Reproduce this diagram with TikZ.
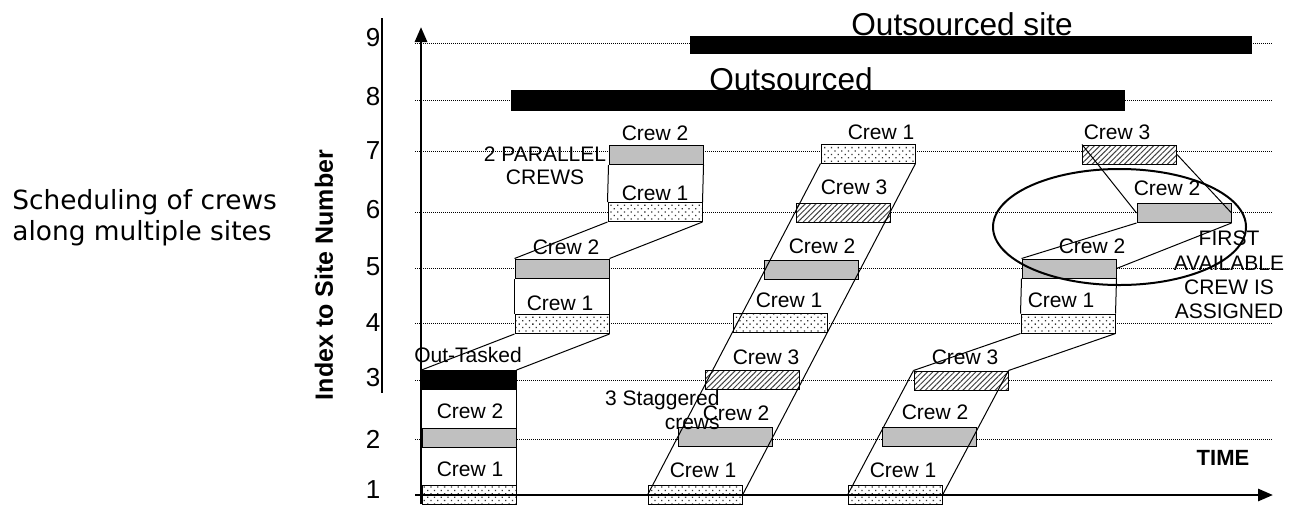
\documentclass[tikz,border=0pt]{standalone}
\usepackage{fontspec}
\setmainfont{Liberation Sans}
\newfontfamily\notefont{DejaVu Sans}
\usetikzlibrary{arrows.meta, patterns.meta, positioning}
\definecolor{cgrey}{HTML}{C0C0C0}
\definecolor{chatch}{HTML}{404040}
\tikzset{
  bar/.style={draw, line width=0.5pt, minimum width=47pt, minimum height=9.5pt, inner sep=0pt},
  dotbar/.style={bar, preaction={fill=white}, pattern={Dots[angle=45, distance=2.4pt, radius=0.45pt]}, pattern color=black!80},
  greybar/.style={bar, fill=cgrey},
  hatchbar/.style={bar, preaction={fill=white}, pattern={Lines[angle=45, distance=1.9pt, line width=0.5pt]}, pattern color=chatch},
  blackbar/.style={bar, fill=black},
  crew/.style={font=\fontsize{10.5}{12}\selectfont, inner sep=0pt},
  num/.style={font=\fontsize{13}{15}\selectfont, inner sep=0pt},
  big/.style={font=\fontsize{15.8}{18}\selectfont, inner sep=0pt},
  link/.style={line width=0.5pt},
  gridline/.style={dash pattern=on 0.4pt off 0.6pt, line width=0.35pt},
  axis/.style={-{Triangle[length=7.5pt, width=6pt]}, line width=1.4pt},
}

\begin{document}
\begin{tikzpicture}[x=0.5pt, y=-0.5pt]
  \useasboundingbox (0,0) rectangle (1293,504);
  \node[font=\notefont\fontsize{13.2}{15.5}\selectfont, align=left, anchor=west, inner sep=0pt] (title) at (12,218) {Scheduling of crews\\along multiple sites};
  \node[font=\bfseries\fontsize{12.5}{14}\selectfont, rotate=90, inner sep=0pt] (ylab) at (324,275) {Index to Site Number};
  \node[num] (n9) at (373,38) {9}; \node[num] (n8) at (373,97) {8}; \node[num] (n7) at (373,151) {7};
  \node[num] (n6) at (373,210) {6}; \node[num] (n5) at (373,267) {5}; \node[num] (n4) at (373,323) {4};
  \node[num] (n3) at (373,378) {3}; \node[num] (n2) at (373,439) {2}; \node[num] (n1) at (373,490) {1};
  \draw[line width=1.2pt] (382,18) -- (382,393);
  \draw[gridline] (415,43) -- (1272,43); \draw[gridline] (415,100) -- (1272,100); \draw[gridline] (415,151) -- (1272,151);
  \draw[gridline] (415,212) -- (1272,212); \draw[gridline] (415,268) -- (1272,268); \draw[gridline] (415,323) -- (1272,323);
  \draw[gridline] (415,380) -- (1272,380); \draw[gridline] (415,439) -- (1272,439);

  \node[blackbar, minimum width=280.5pt, minimum height=8.5pt] (out9) at (970.5,44.5) {};
  \node[blackbar, minimum width=306.5pt, minimum height=10pt] (out8) at (817.5,100) {};
  \node[big, anchor=base] (lout9) at (962,35) {Outsourced site};
  \node[big, anchor=base] (lout8) at (791,90) {Outsourced};

  \node[dotbar] (a1) at (469,495) {}; \node[greybar] (a2) at (469,437.5) {}; \node[blackbar] (a3) at (469,380) {};
  \node[dotbar] (b4) at (562,324) {}; \node[greybar] (b5) at (562,268.5) {};
  \node[dotbar] (c6) at (655,212) {}; \node[greybar] (c7) at (656,155) {};
  \node[dotbar] (d1) at (695,495) {}; \node[greybar] (d2) at (725,437) {}; \node[hatchbar] (d3) at (752,380) {};
  \node[dotbar] (d4) at (780,323) {}; \node[greybar] (d5) at (811,270) {}; \node[hatchbar] (d6) at (843,212.5) {};
  \node[dotbar] (d7) at (868,153.5) {};
  \node[dotbar] (e1) at (895,495) {}; \node[greybar] (e2) at (929,436.5) {}; \node[hatchbar] (e3) at (961,380.5) {};
  \node[dotbar] (f4) at (1068,323.5) {}; \node[greybar] (f5) at (1069,268.5) {};
  \node[greybar] (g6) at (1184,213) {}; \node[hatchbar] (g7) at (1129.5,154.5) {};

  \draw[link] (a1.north east) -- (a3.south east);
  \draw[link] (b4.north west) -- (b5.south west); \draw[link] (b4.north east) -- (b5.south east);
  \draw[link] (c6.north west) -- (c7.south west); \draw[link] (c6.north east) -- (c7.south east);
  \draw[link] (f4.north west) -- (f5.south west); \draw[link] (f4.north east) -- (f5.south east);
  \draw[link] (a3.north west) -- (b4.south west); \draw[link] (a3.north east) -- (b4.south east);
  \draw[link] (b5.north west) -- (c6.south west); \draw[link] (b5.north east) -- (c6.south east);
  \draw[link] (d1.west) -- (d7.south west); \draw[link] (d1.east) -- (d7.south east);
  \draw[link] (e1.west) -- (e3.north west); \draw[link] (e1.east) -- (e3.north east);
  \draw[link] (e3.north west) -- (f4.south west); \draw[link] (e3.north east) -- (f4.south east);
  \draw[link] (f5.north west) -- (g6.south west); \draw[link] (f5.east) -- (g6.south east);
  \draw[link] (g7.north west) -- (g6.west); \draw[link] (g7.east) -- (g6.east);

  \node[crew] (la1) at (470,469) {Crew 1}; \node[crew] (la2) at (470,411) {Crew 2}; \node[crew] (la3) at (468,355) {Out-Tasked};
  \node[crew] (lb4) at (560,303) {Crew 1}; \node[crew] (lb5) at (566,247) {Crew 2};
  \node[crew] (lc6) at (655,193) {Crew 1}; \node[crew] (lc7) at (655,133) {Crew 2};
  \node[crew] (ld1) at (703,470) {Crew 1}; \node[crew] (ld2) at (736,413) {Crew 2}; \node[crew] (ld3) at (766,357) {Crew 3};
  \node[crew] (ld4) at (789,300) {Crew 1}; \node[crew] (ld5) at (822,246) {Crew 2}; \node[crew] (ld6) at (854,187) {Crew 3};
  \node[crew] (ld7) at (881,132) {Crew 1};
  \node[crew] (le1) at (903,470) {Crew 1}; \node[crew] (le2) at (935,412) {Crew 2}; \node[crew] (le3) at (965,357) {Crew 3};
  \node[crew] (lf4) at (1061,300) {Crew 1}; \node[crew] (lf5) at (1092,246) {Crew 2};
  \node[crew] (lg6) at (1167,188) {Crew 2}; \node[crew] (lg7) at (1117,132) {Crew 3};
  \node[crew, align=center, font=\fontsize{10.5}{11.5}\selectfont] (parallel) at (545,166) {2 PARALLEL\\CREWS};
  \node[crew, align=right, anchor=east, font=\fontsize{10.5}{12}\selectfont] (stagger) at (720,410) {3 Staggered\\crews};
  \node[crew, align=center, font=\fontsize{10.5}{12.2}\selectfont] (first) at (1229,275) {FIRST\\AVAILABLE\\CREW IS\\ASSIGNED};
  \draw[line width=1pt] (1119.5,227) ellipse [x radius=63.25pt, y radius=29pt];

  \coordinate (yfoot) at (421,504); \coordinate (ytip) at (421,27);
  \coordinate (xfoot) at (415,495); \coordinate (xtip) at (1273,495);
  \draw[axis] (yfoot) -- (ytip);
  \draw[axis] (xfoot) -- (xtip);
  \node[font=\bfseries\fontsize{11}{13}\selectfont, inner sep=0pt] (time) at (1223,458) {TIME};
\end{tikzpicture}
\end{document}
